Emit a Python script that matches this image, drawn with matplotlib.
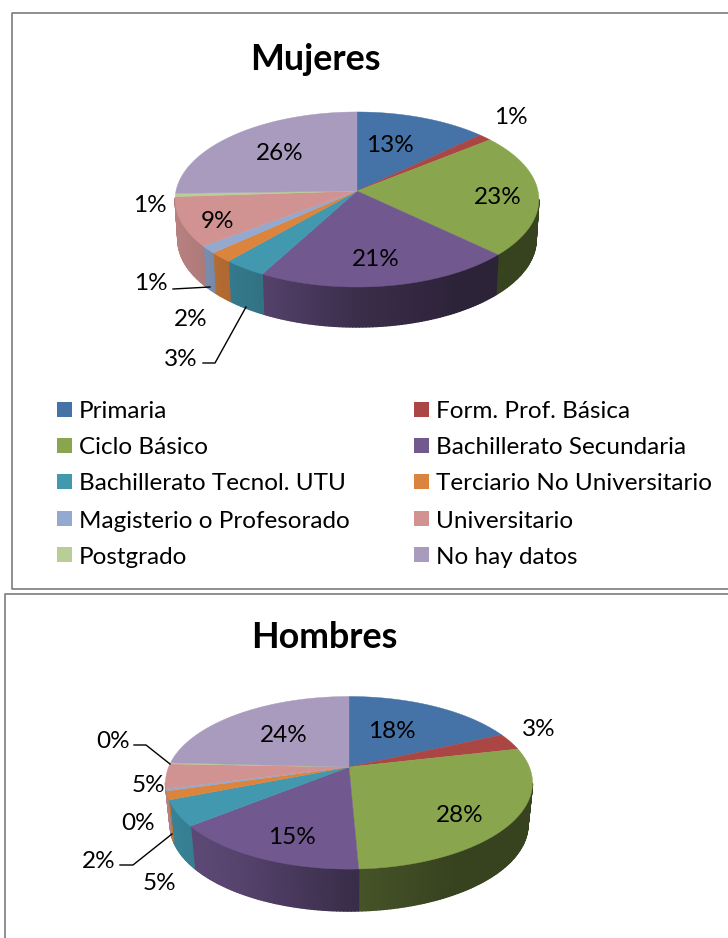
import numpy as np
import matplotlib
matplotlib.use("Agg")
import matplotlib.pyplot as plt
from matplotlib.collections import PolyCollection
from matplotlib.colors import to_rgb

categories = ["Primaria", "Form. Prof. Básica", "Ciclo Básico", "Bachillerato Secundaria",
              "Bachillerato Tecnol. UTU", "Terciario No Universitario",
              "Magisterio o Profesorado", "Universitario", "Postgrado", "No hay datos"]
colors = ["#4572a7", "#aa4643", "#89a54e", "#71588f", "#4198af",
          "#db843d", "#93a9cf", "#d19392", "#b9cd96", "#a99bbd"]

mujeres = [12.9, 1.3, 22.8, 20.9, 3.5, 1.9, 1.4, 9.2, 0.6, 25.4]
mujeres_txt = ["13%", "1%", "23%", "21%", "3%", "2%", "1%", "9%", "1%", "26%"]
hombres = [18.2, 3.2, 27.9, 14.9, 4.8, 1.6, 0.4, 4.6, 0.2, 24.2]
hombres_txt = ["18%", "3%", "28%", "15%", "5%", "2%", "0%", "5%", "0%", "24%"]

# label centres in pixels
muj_pos = [(390, 145), (511, 117), (498, 197), (376, 260), (181, 359),
           (191, 319), (151, 283), (217, 221), (150, 205), (280, 154)]
hom_pos = [(392, 731), (539, 729), (460, 816), (292, 838), (159, 884),
           (99, 861), (138, 824), (148, 786), (113, 742), (284, 735)]

plt.rcParams['font.family'] = ['Lato', 'DejaVu Sans']
LABEL = 17.5

fig = plt.figure(figsize=(7.28, 9.38), dpi=100)
ax = fig.add_axes([0, 0, 1, 1])
ax.set_xlim(0, 728)
ax.set_ylim(938, 0)
ax.axis("off")


def rim(t, cx, cy, a, b, k):
    u = np.sin(t)
    v = np.cos(t)
    w = 1 + k * v
    return cx + a * u / w, cy - b * v / w


def pie3d(values, cx, cy, a, b, k, depth, shrink):
    edges = np.concatenate([[0], np.cumsum(values)]) / np.sum(values) * 2 * np.pi
    # side wall first, the top covers whatever is behind it
    for i in range(len(values)):
        t = np.linspace(edges[i], edges[i + 1], max(int((edges[i + 1] - edges[i]) * 60), 2))
        quads, cols = [], []
        for t0, t1 in zip(t[:-1], t[1:]):
            if np.cos(t0) > -k:
                continue
            x0, y0 = rim(t0, cx, cy, a, b, k)
            x1, y1 = rim(t1, cx, cy, a, b, k)
            bx0 = cx + (x0 - cx) * shrink
            bx1 = cx + (x1 - cx) * shrink
            quads.append([(x0, y0), (x1, y1), (bx1, y1 + depth), (bx0, y0 + depth)])
            f = np.interp(np.sin(t0), [-1, -0.5, 0, 0.5, 1], [0.88, 0.76, 0.52, 0.40, 0.40])
            cols.append(tuple(c * f for c in to_rgb(colors[i])))
        if quads:
            ax.add_collection(PolyCollection(quads, facecolors=cols, edgecolors=cols, linewidths=1.0))
    for i in range(len(values)):
        t = np.linspace(edges[i], edges[i + 1], max(int((edges[i + 1] - edges[i]) * 60), 3))
        x, y = rim(t, cx, cy, a, b, k)
        ax.fill(np.r_[cx, x], np.r_[cy, y], color=colors[i], lw=0.3)


def add_text(txts, pos):
    for s, (x, y) in zip(txts, pos):
        ax.text(x, y, s, fontsize=LABEL, ha="center", va="center", color="black")


# frames
ax.plot([728, 12, 12, 728], [13, 13, 589, 589], color="#868686", lw=1.3)
ax.plot([728, 5, 5], [594, 594, 938], color="#868686", lw=1.3)

pie3d(mujeres, 357, 191, 181, 86.7, 0.097, 40, 0.985)
pie3d(hombres, 349, 767, 180.4, 83.4, 0.183, 42, 0.975)
add_text(mujeres_txt, muj_pos)
add_text(hombres_txt, hom_pos)

ax.text(315, 60, "Mujeres", fontsize=25.8, fontweight="bold", ha="center", va="center")
ax.text(324, 637, "Hombres", fontsize=25.8, fontweight="bold", ha="center", va="center")

# leader lines
ax.plot([173, 210], [289, 287], color="black", lw=1)
ax.plot([203, 215, 246], [363, 363, 307], color="black", lw=1)
ax.plot([134, 146, 170], [745, 745, 764], color="black", lw=1)
ax.plot([120, 133, 172], [865, 865, 834], color="black", lw=1)

# legend, two columns reading across
leg_y = [410, 446, 482, 519, 555]
for i, name in enumerate(categories):
    x0 = 57 if i % 2 == 0 else 414
    y0 = leg_y[i // 2]
    ax.fill([x0, x0 + 15, x0 + 15, x0], [y0 - 7.5, y0 - 7.5, y0 + 7.5, y0 + 7.5], color=colors[i], lw=0)
    ax.text(x0 + 22, y0 + 2, name, fontsize=LABEL, ha="left", va="center", color="black")

fig.savefig("out.png", dpi=100)
